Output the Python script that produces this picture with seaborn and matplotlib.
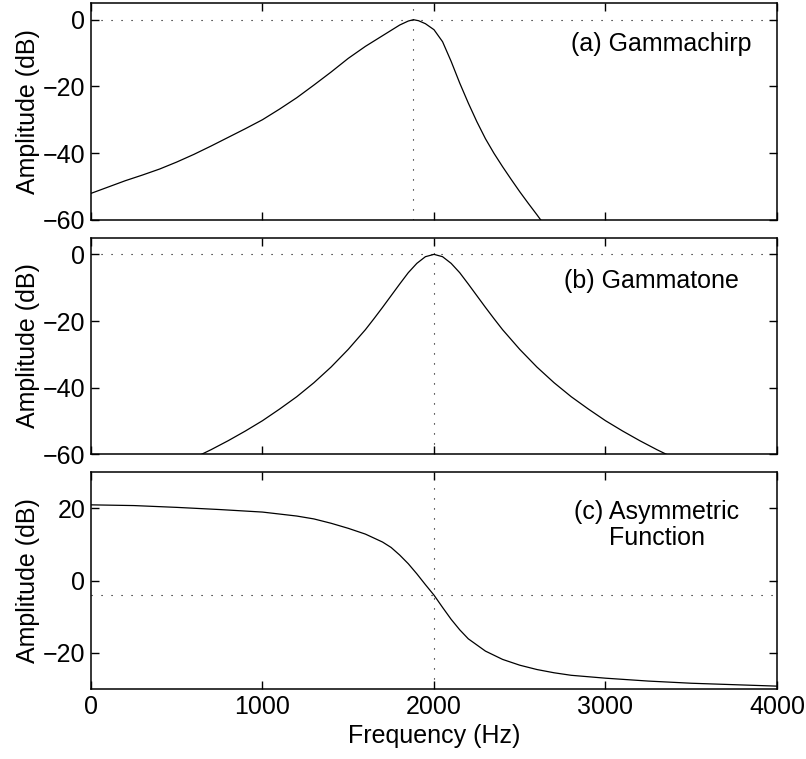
import numpy as np
import pandas as pd
import seaborn as sns
import matplotlib.pyplot as plt

# Values (frequency in Hz, amplitude in dB)

# (a) Gammachirp
chirp_freq = [0, 100, 200, 300, 400, 500, 600, 700, 800, 900, 1000, 1100, 1200,
              1300, 1400, 1500, 1600, 1700, 1750, 1800, 1850, 1880, 1910, 1950,
              2000, 2050, 2100, 2150, 2200, 2250, 2300, 2350, 2400, 2450, 2500,
              2550, 2600, 2650]
chirp_db = [-52.1, -50.2, -48.3, -46.6, -44.8, -42.7, -40.4, -37.9, -35.3, -32.7,
            -30.0, -26.8, -23.4, -19.6, -15.7, -11.6, -8.0, -4.8, -3.2, -1.6,
            -0.4, 0.0, -0.3, -1.2, -3.0, -6.6, -12.5, -19.0, -25.0, -30.6, -35.7,
            -40.1, -44.1, -47.9, -51.6, -55.1, -58.5, -62.0]
chirp_peak = 1880

# (b) Gammatone
tone_freq = [600, 700, 800, 900, 1000, 1100, 1200, 1300, 1400, 1500, 1600, 1650,
             1700, 1750, 1800, 1850, 1900, 1950, 2000, 2050, 2100, 2150, 2200,
             2250, 2300, 2350, 2400, 2500, 2600, 2700, 2800, 2900, 3000, 3100,
             3200, 3300, 3400]
tone_db = [-61.1, -58.6, -55.9, -53.0, -49.9, -46.4, -42.7, -38.5, -33.8, -28.5,
           -22.6, -19.3, -15.9, -12.4, -8.9, -5.5, -2.7, -0.7, 0.0, -0.7, -2.7,
           -5.5, -8.9, -12.4, -15.9, -19.3, -22.6, -28.5, -33.8, -38.5, -42.7,
           -46.4, -49.9, -53.0, -55.9, -58.6, -61.1]
tone_center = 2000

# (c) Asymmetric function
asym_freq = [0, 250, 500, 750, 1000, 1200, 1300, 1400, 1500, 1600, 1700, 1750,
             1800, 1850, 1900, 1950, 2000, 2050, 2100, 2150, 2200, 2300, 2400,
             2500, 2600, 2700, 2800, 3000, 3250, 3500, 3750, 4000]
asym_db = [21.0, 20.8, 20.3, 19.7, 19.0, 17.9, 17.1, 15.9, 14.5, 12.9, 10.7, 9.2,
           7.1, 4.7, 1.9, -1.1, -4.0, -7.4, -10.7, -13.6, -16.1, -19.5, -21.8,
           -23.4, -24.6, -25.5, -26.2, -27.0, -27.8, -28.4, -28.8, -29.2]
asym_center = 2000
asym_level = -4.0

labels = ["(a) Gammachirp", "(b) Gammatone", "(c) Asymmetric\nFunction"]

sns.set_theme(style="ticks")
plt.rcParams['font.family'] = ['Liberation Sans', 'DejaVu Sans']
plt.rcParams['axes.linewidth'] = 1.1
plt.rcParams['axes.edgecolor'] = 'black'
plt.rcParams['axes.labelcolor'] = 'black'
plt.rcParams['text.color'] = 'black'
plt.rcParams['xtick.color'] = 'black'
plt.rcParams['ytick.color'] = 'black'
plt.rcParams['xtick.labelcolor'] = 'black'
plt.rcParams['ytick.labelcolor'] = 'black'

fig, axes = plt.subplots(3, 1, figsize=(8.06, 7.59), dpi=100)
fig.subplots_adjust(left=0.1129, right=0.964, top=0.996, bottom=0.0922, hspace=0.083)

dot = dict(color='black', lw=0.8, linestyle=(0, (1, 8)))

panels = [
    (pd.DataFrame({'freq': chirp_freq, 'db': chirp_db}), (-60, 5), [-60, -40, -20, 0]),
    (pd.DataFrame({'freq': tone_freq, 'db': tone_db}), (-60, 5), [-60, -40, -20, 0]),
    (pd.DataFrame({'freq': asym_freq, 'db': asym_db}), (-30, 30), [-20, 0, 20]),
]

for i, (ax, (df, ylim, yticks)) in enumerate(zip(axes, panels)):
    sns.lineplot(data=df, x='freq', y='db', ax=ax, color='black', lw=0.9)
    ax.set_xlim(0, 4000)
    ax.set_ylim(*ylim)
    ax.set_yticks(yticks)
    ax.set_yticklabels([f"{t}".replace('-', '\u2212') for t in yticks])
    ax.set_xticks([0, 1000, 2000, 3000, 4000])
    ax.tick_params(direction='in', length=6, width=1.0, top=True, right=True,
                   labelsize=18, pad=4, colors='black')
    ax.set_ylabel("Amplitude (dB)", fontsize=18, labelpad=2, color='black')
    ax.set_xlabel("")
    for side in ax.spines.values():
        side.set_visible(True)
        side.set_color('black')
    if i < 2:
        ax.set_xticklabels([])

# reference lines
axes[0].axhline(0, **dot)
axes[0].axvline(chirp_peak, **dot)
axes[1].axhline(0, **dot)
axes[1].axvline(tone_center, **dot)
axes[2].axhline(asym_level, **dot)
axes[2].axvline(asym_center, **dot)

axes[0].text(3850, -7.2, labels[0], ha='right', va='center', fontsize=18, color='black')
axes[1].text(3780, -7.9, labels[1], ha='right', va='center', fontsize=18, color='black')
axes[2].text(3300, 15.3, labels[2], ha='center', va='center', fontsize=18,
             multialignment='center', linespacing=1.1, color='black')

axes[2].set_xlabel("Frequency (Hz)", fontsize=18, labelpad=4, color='black')

fig.savefig("out.png", dpi=100)
